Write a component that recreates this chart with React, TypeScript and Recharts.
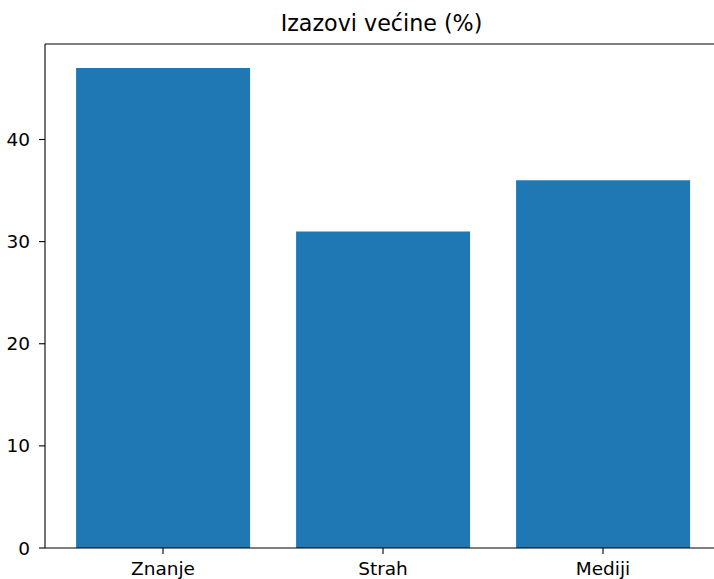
import React from 'react'
import { BarChart, Bar, XAxis, YAxis, ReferenceLine } from 'recharts'

const categories = ['Znanje', 'Strah', 'Mediji']
const values = [47, 31, 36]
const yTicks = [0, 10, 20, 30, 40]
const yMax = 49.35

const data = categories.map((name, i) => ({ name, value: values[i] }))

const font = '"DejaVu Sans", sans-serif'

const App: React.FC = () => {
  return (
    <div style={{ position: 'absolute', left: 0, top: 0, width: 714, height: 579, overflow: 'hidden', background: '#fff' }}>
      <div
        style={{
          position: 'absolute',
          left: 45,
          top: 10,
          width: 673,
          textAlign: 'center',
          fontFamily: font,
          fontSize: 22.2,
          lineHeight: '26px',
          color: '#000',
        }}
      >
        Izazovi većine (%)
      </div>
      <BarChart
        width={730}
        height={579}
        data={data}
        margin={{ top: 44, right: 12, bottom: 0, left: 0 }}
        barCategoryGap="10.5%"
      >
        <XAxis
          dataKey="name"
          padding={{ left: 8, right: 5 }}
          height={31}
          tickSize={6}
          tickMargin={8}
          axisLine={{ stroke: '#000', strokeWidth: 1.1 }}
          tickLine={{ stroke: '#000', strokeWidth: 1.1 }}
          tick={{ fill: '#000', fontSize: 18.5, fontFamily: font }}
        />
        <YAxis
          type="number"
          domain={[0, yMax]}
          ticks={yTicks}
          width={45}
          tickSize={6}
          tickMargin={9}
          axisLine={{ stroke: '#000', strokeWidth: 1.1 }}
          tickLine={{ stroke: '#000', strokeWidth: 1.1 }}
          tick={{ fill: '#000', fontSize: 18.5, fontFamily: font }}
        />
        <Bar dataKey="value" fill="#1f77b4" isAnimationActive={false} />
        <ReferenceLine y={yMax} stroke="#000" strokeWidth={1.1} />
      </BarChart>
    </div>
  )
}

export default App
